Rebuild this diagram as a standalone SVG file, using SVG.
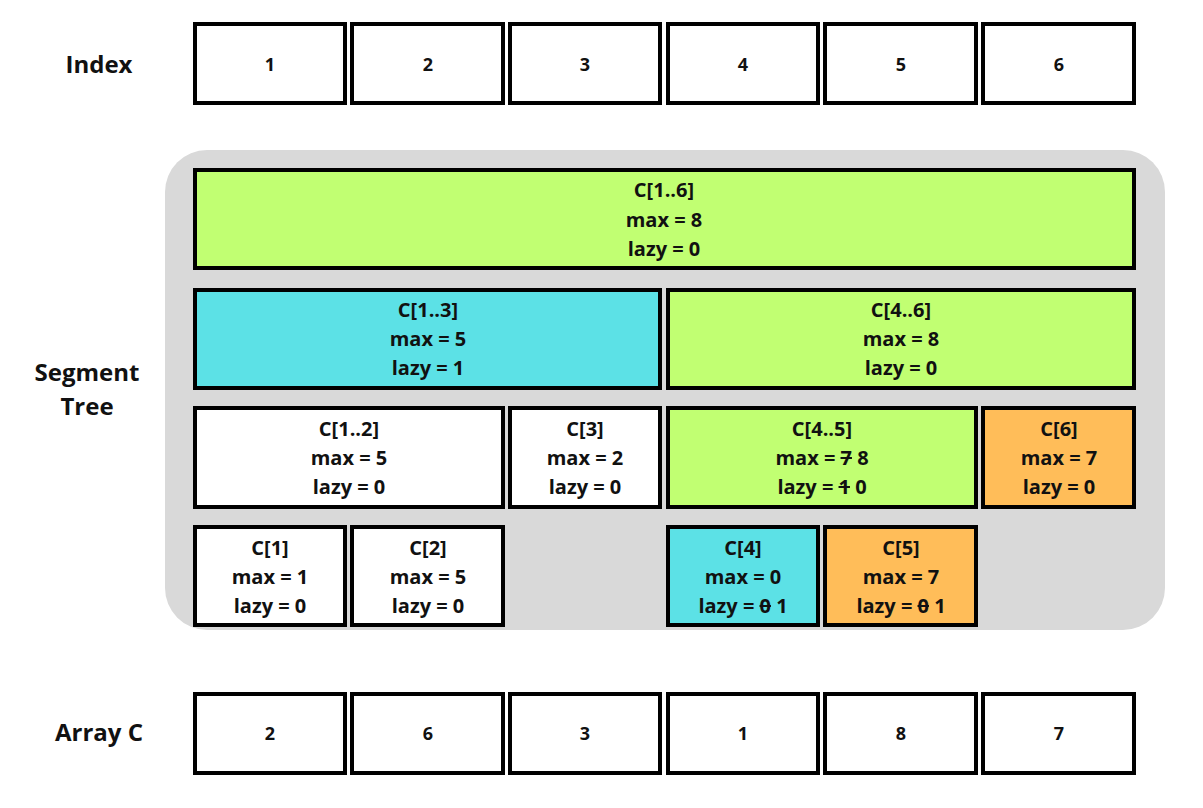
<svg xmlns="http://www.w3.org/2000/svg" width="1203" height="808" viewBox="0 0 1203 808">
<style>
.b{stroke:#000;stroke-width:4}
.w{fill:#fff}.g{fill:#C1FF72}.c{fill:#5CE1E6}.o{fill:#FFBD59}
text{font-family:"Open Sans","Liberation Sans",sans-serif;font-weight:bold;font-size:20px;text-anchor:middle;fill:#111}
.n{font-size:18px}
.lab{font-size:24px}
.s{text-decoration:line-through}
</style>
<rect width="1203" height="808" fill="#fff"/>
<rect x="165" y="150" width="1000" height="480" rx="42" fill="#D9D9D9"/>
<g id="labels">
<text class="lab" x="99" y="73">Index</text>
<text class="lab" x="87" y="381">Segment</text>
<text class="lab" x="87" y="415">Tree</text>
<text class="lab" x="99" y="741">Array C</text>
</g>
<g id="index">
<g id="i1"><rect class="b w" x="195" y="24" width="150" height="79"/><text class="n" x="270" y="71">1</text></g>
<g id="i2"><rect class="b w" x="352" y="24" width="151" height="79"/><text class="n" x="428" y="71">2</text></g>
<g id="i3"><rect class="b w" x="510" y="24" width="150" height="79"/><text class="n" x="585" y="71">3</text></g>
<g id="i4"><rect class="b w" x="668" y="24" width="150" height="79"/><text class="n" x="743" y="71">4</text></g>
<g id="i5"><rect class="b w" x="825" y="24" width="151" height="79"/><text class="n" x="901" y="71">5</text></g>
<g id="i6"><rect class="b w" x="983" y="24" width="151" height="79"/><text class="n" x="1059" y="71">6</text></g>
</g>
<g id="n16"><rect class="b g" x="195" y="170" width="939" height="98"/>
<text x="664" y="197">C[1..6]</text><text x="664" y="227">max = 8</text><text x="664" y="256">lazy = 0</text></g>
<g id="n13"><rect class="b c" x="195" y="290" width="465" height="98"/>
<text x="428" y="317">C[1..3]</text><text x="428" y="346">max = 5</text><text x="428" y="375">lazy = 1</text></g>
<g id="n46"><rect class="b g" x="668" y="290" width="466" height="98"/>
<text x="901" y="317">C[4..6]</text><text x="901" y="346">max = 8</text><text x="901" y="375">lazy = 0</text></g>
<g id="n12"><rect class="b w" x="195" y="408" width="308" height="99"/>
<text x="349" y="436">C[1..2]</text><text x="349" y="465">max = 5</text><text x="349" y="494">lazy = 0</text></g>
<g id="n3"><rect class="b w" x="510" y="408" width="150" height="99"/>
<text x="585" y="436">C[3]</text><text x="585" y="465">max = 2</text><text x="585" y="494">lazy = 0</text></g>
<g id="n45"><rect class="b g" x="668" y="408" width="308" height="99"/>
<text x="822" y="436">C[4..5]</text><text x="822" y="465">max = <tspan class="s">7</tspan> 8</text><text x="822" y="494">lazy = <tspan class="s">1</tspan> 0</text></g>
<g id="n6"><rect class="b o" x="983" y="408" width="151" height="99"/>
<text x="1059" y="436">C[6]</text><text x="1059" y="465">max = 7</text><text x="1059" y="494">lazy = 0</text></g>
<g id="n1"><rect class="b w" x="195" y="527" width="150" height="98"/>
<text x="270" y="555">C[1]</text><text x="270" y="584">max = 1</text><text x="270" y="613">lazy = 0</text></g>
<g id="n2"><rect class="b w" x="352" y="527" width="151" height="98"/>
<text x="428" y="555">C[2]</text><text x="428" y="584">max = 5</text><text x="428" y="613">lazy = 0</text></g>
<g id="n4"><rect class="b c" x="668" y="527" width="150" height="98"/>
<text x="743" y="555">C[4]</text><text x="743" y="584">max = 0</text><text x="743" y="613">lazy = <tspan class="s">0</tspan> 1</text></g>
<g id="n5"><rect class="b o" x="825" y="527" width="151" height="98"/>
<text x="901" y="555">C[5]</text><text x="901" y="584">max = 7</text><text x="901" y="613">lazy = <tspan class="s">0</tspan> 1</text></g>
<g id="arrayC">
<g id="a1"><rect class="b w" x="195" y="694" width="150" height="79"/><text class="n" x="270" y="740">2</text></g>
<g id="a2"><rect class="b w" x="352" y="694" width="151" height="79"/><text class="n" x="428" y="740">6</text></g>
<g id="a3"><rect class="b w" x="510" y="694" width="150" height="79"/><text class="n" x="585" y="740">3</text></g>
<g id="a4"><rect class="b w" x="668" y="694" width="150" height="79"/><text class="n" x="743" y="740">1</text></g>
<g id="a5"><rect class="b w" x="825" y="694" width="151" height="79"/><text class="n" x="901" y="740">8</text></g>
<g id="a6"><rect class="b w" x="983" y="694" width="151" height="79"/><text class="n" x="1059" y="740">7</text></g>
</g>
<g id="connectors"></g>
</svg>
